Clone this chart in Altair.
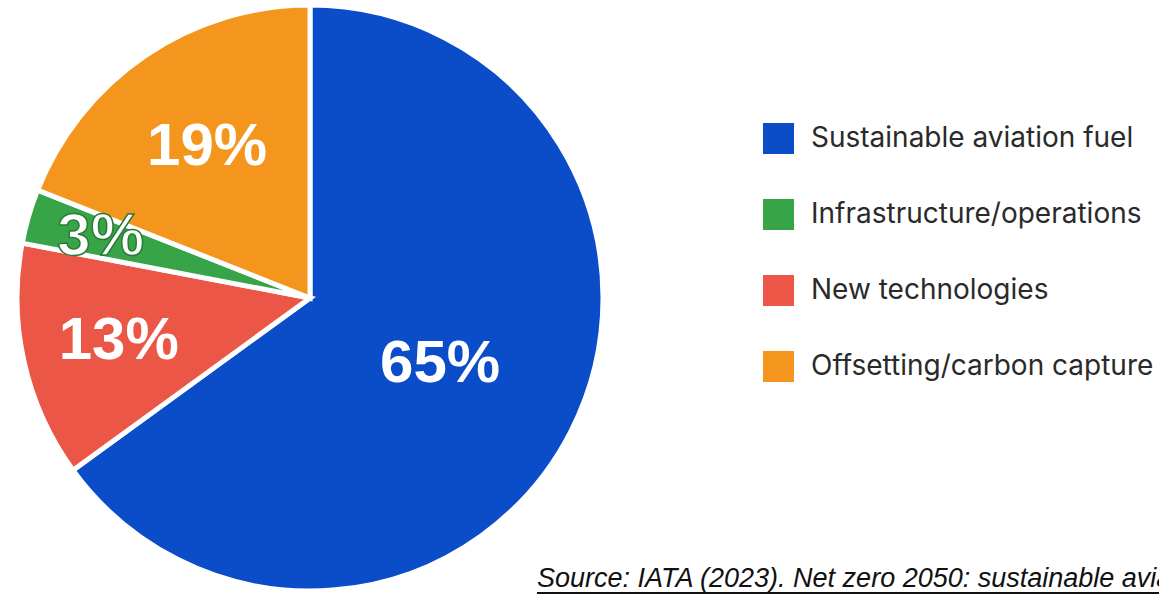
import altair as alt
import pandas as pd

# Pie order (clockwise from 12 o'clock)
categories = ["Sustainable aviation fuel", "New technologies",
              "Infrastructure/operations", "Offsetting/carbon capture"]
shares = [65, 13, 3, 19]
labels = ["65%", "13%", "3%", "19%"]

# Legend order and colours
legend_order = ["Sustainable aviation fuel", "Infrastructure/operations",
                "New technologies", "Offsetting/carbon capture"]
legend_colors = ["#0b4cc8", "#37a448", "#ec5646", "#f4961e"]

source_text = "Source: IATA (2023). Net zero 2050: sustainable aviation fuels."

df = pd.DataFrame({
    "cat": categories,
    "share": shares,
    "label": labels,
    "idx": list(range(len(categories))),
})

CX, CY, R = 310, 298, 293
theta_scale = alt.Scale(domain=[0, 100])

arcs = alt.Chart(df).mark_arc(outerRadius=R, stroke="white", strokeWidth=5).encode(
    theta=alt.Theta("share:Q", stack=True, scale=theta_scale),
    order=alt.Order("idx:Q"),
    color=alt.Color(
        "cat:N",
        scale=alt.Scale(domain=legend_order, range=legend_colors),
        legend=alt.Legend(
            title=None,
            orient="none",
            legendX=763,
            legendY=123,
            symbolType="square",
            symbolSize=961,
            symbolStrokeWidth=0,
            symbolOpacity=1,
            labelFont="Inter",
            labelFontSize=28,
            labelColor="#2a2a2a",
            labelOffset=17,
            rowPadding=45,
            padding=0,
            labelLimit=500,
        ),
    ),
    x=alt.value(CX),
    y=alt.value(CY),
)

label_radius_expr = (
    "datum.label == '65%' ? 146 : datum.label == '13%' ? 196 : "
    "datum.label == '3%' ? 218 : 183"
)

texts = alt.Chart(df).mark_text(
    font="Liberation Sans", fontWeight="bold", fontSize=60,
    color="white", align="center", baseline="middle", stroke="#2b7a36",
).transform_window(
    cum="sum(share)", sort=[alt.SortField("idx")]
).transform_calculate(
    mid="datum.cum - datum.share / 2", lr=label_radius_expr
).encode(
    theta=alt.Theta("mid:Q", stack=None, scale=theta_scale),
    text="label:N",
    radius=alt.Radius("lr:Q", scale=None),
    strokeWidth=alt.condition("datum.label == '3%'", alt.value(1.5), alt.value(0)),
    x=alt.value(CX),
    y=alt.value(CY),
)

src = alt.Chart(pd.DataFrame({"t": [source_text]})).mark_text(
    font="Liberation Sans", fontStyle="italic", fontSize=27, color="#111111",
    align="left", baseline="alphabetic",
).encode(text="t:N", x=alt.value(537), y=alt.value(587))

underline = alt.Chart(pd.DataFrame({"t": [source_text]})).mark_rule(
    color="#111111", strokeWidth=2
).encode(x=alt.value(537), x2=alt.value(1159), y=alt.value(593))

chart = alt.layer(arcs, texts, src, underline).properties(
    width=1159, height=595, autosize="none", padding=0,
    background="white",
).configure_view(stroke=None)

chart.save("out.html", embed_options={"renderer": "svg", "actions": False})
